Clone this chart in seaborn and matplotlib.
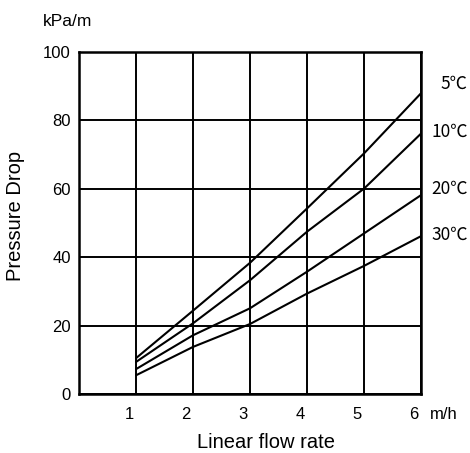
import matplotlib
matplotlib.use("Agg")
import matplotlib.pyplot as plt
import matplotlib.transforms as mtransforms
import pandas as pd
import seaborn as sns

# flow rate (m/h) and pressure drop (kPa/m) per temperature
flow = [1, 2, 3, 4, 5, 6]
temps = ["5℃", "10℃", "20℃", "30℃"]
drop_5 = [10.5, 24.4, 38.4, 54.3, 70.4, 88.0]
drop_10 = [9.4, 20.7, 33.3, 47.5, 60.1, 76.2]
drop_20 = [7.3, 17.2, 25.1, 35.8, 47.0, 58.2]
drop_30 = [5.5, 13.8, 20.5, 29.4, 37.5, 46.2]

rows = []
for t, vals in zip(temps, [drop_5, drop_10, drop_20, drop_30]):
    for x, y in zip(flow, vals):
        rows.append({"flow": x, "drop": y, "temp": t})
df = pd.DataFrame(rows)

sns.set_style("white")
plt.rcParams["font.family"] = ["Liberation Sans", "DejaVu Sans"]
plt.rcParams["text.color"] = "black"
plt.rcParams["axes.labelcolor"] = "black"

fig = plt.figure(figsize=(4.70, 4.53), dpi=100)
ax = fig.add_axes([0.168, 0.130, 0.728, 0.755])

sns.lineplot(data=df, x="flow", y="drop", units="temp", estimator=None,
             color="black", linewidth=1.5, ax=ax)

ax.set_xlim(0, 6)
ax.set_ylim(0, 100)
ax.set_xticks([1, 2, 3, 4, 5, 6])
ax.set_yticks([0, 20, 40, 60, 80, 100])
ax.grid(True, color="black", linewidth=1.4)
for s in ax.spines.values():
    s.set_color("black")
    s.set_linewidth(1.8)
ax.tick_params(length=0, labelsize=12, colors="black")
ax.tick_params(axis="x", pad=9)
ax.tick_params(axis="y", pad=6)

# x tick labels sit a little left of the grid lines
shift = mtransforms.ScaledTranslation(-0.07, 0, fig.dpi_scale_trans)
for lab in ax.get_xticklabels():
    lab.set_transform(lab.get_transform() + shift)

ax.set_xlabel("Linear flow rate", fontsize=14.5, labelpad=8, color="black")
ax.xaxis.set_label_coords(0.547, -0.115)
ax.set_ylabel("Pressure Drop", fontsize=14.5, color="black")
ax.yaxis.set_label_coords(-0.158, 0.52)

# unit labels
ax.text(-0.64, 108.8, "kPa/m", fontsize=12.5, ha="left", va="center",
        color="black", clip_on=False)
ax.text(6.16, -6.1, "m/h", fontsize=12, ha="left", va="center",
        color="black", clip_on=False)

# temperature labels at right
label_y = [90.8, 76.7, 60.1, 46.5]
for t, y in zip(temps, label_y):
    ax.text(6.82, y, t, fontsize=12.5, ha="right", va="center", clip_on=False,
            color="black", family=["Noto Sans CJK JP", "DejaVu Sans"])

fig.savefig("out.png", dpi=100)
